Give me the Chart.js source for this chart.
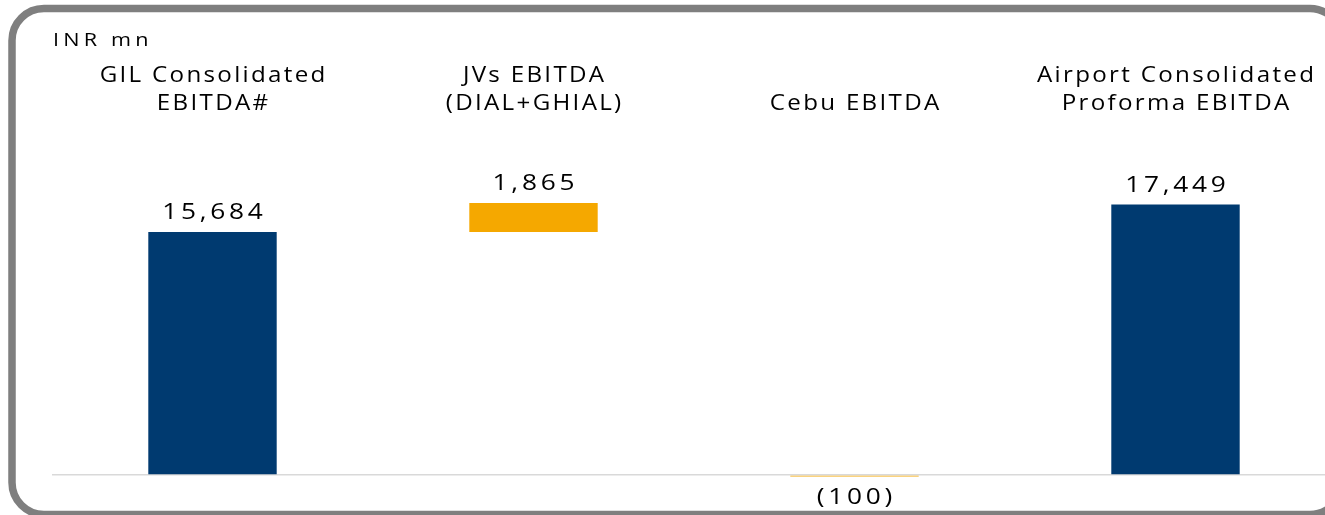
<!DOCTYPE html>
<html>
<head>
<meta charset="utf-8">
<script src="https://cdn.jsdelivr.net/npm/chart.js@4/dist/chart.umd.min.js"></script>
<style>
  html, body { margin: 0; padding: 0; background: #fff; overflow: hidden; width: 1325px; height: 515px; }
  #wrap { position: relative; width: 1325px; height: 515px; overflow: hidden; }
  #chart { position: absolute; left: 0; top: 0; }
</style>
</head>
<body>
<div id="wrap">
  <canvas id="chart" width="1345" height="515"></canvas>
</div>
<script>
  'use strict';

  // Data
  var categories = [
    ['GIL Consolidated', 'EBITDA#'],
    ['JVs EBITDA', '(DIAL+GHIAL)'],
    ['Cebu EBITDA'],
    ['Airport Consolidated', 'Proforma EBITDA']
  ];
  var values = [15684, 1865, -100, 17449];
  var bases = [0, 15684, 0, 0];
  var valueLabels = ['15,684', '1,865', '(100)', '17,449'];
  var barColors = ['#003A70', '#F5A800', '#F5A800', '#003A70'];
  var unitLabel = 'INR mn';

  var FONT = '"Open Sans", "Liberation Sans", sans-serif';

  // wide-looking text: stretch horizontally and add a little tracking
  function wideText(ctx, text, x, y, stretch, spacing, align) {
    ctx.save();
    ctx.translate(x, y);
    ctx.scale(stretch, 1);
    ctx.letterSpacing = spacing + 'px';
    ctx.textAlign = align || 'center';
    ctx.fillText(text, align === 'left' ? 0 : spacing / 2, 0);
    ctx.restore();
  }

  // rounded frame, its right side runs off the page
  var framePlugin = {
    id: 'frame',
    beforeDraw: function (chart) {
      var ctx = chart.ctx;
      var l = 12, t = 8.5, b = 514.5, r = 32, cx = 1310;
      ctx.save();
      ctx.strokeStyle = '#7f7f7f';
      ctx.lineWidth = 7.5;
      ctx.beginPath();
      ctx.arc(cx, t + r, r, -Math.PI / 6, -Math.PI / 2, true);
      ctx.lineTo(l + r, t);
      ctx.arc(l + r, t + r, r, -Math.PI / 2, Math.PI, true);
      ctx.lineTo(l, b - r);
      ctx.arc(l + r, b - r, r, Math.PI, Math.PI / 2, true);
      ctx.lineTo(cx, b);
      ctx.arc(cx, b - r, r, Math.PI / 2, Math.PI / 6, true);
      ctx.stroke();
      ctx.restore();
    }
  };

  var labelsPlugin = {
    id: 'waterfallLabels',
    afterDatasetsDraw: function (chart) {
      var ctx = chart.ctx;
      var xScale = chart.scales.x;
      var meta = chart.getDatasetMeta(0);
      ctx.save();
      ctx.fillStyle = '#000';
      ctx.textBaseline = 'alphabetic';

      // unit label
      ctx.font = '18px ' + FONT;
      wideText(ctx, unitLabel, 53, 46, 1.2, 3.5, 'left');

      // category labels, bottom aligned
      ctx.font = '21px ' + FONT;
      categories.forEach(function (lines, i) {
        var cx = xScale.getPixelForValue(i);
        var n = lines.length;
        lines.forEach(function (line, j) {
          wideText(ctx, line, cx, 110 - (n - 1 - j) * 28, 1.15, 2);
        });
      });

      // value labels
      ctx.font = '21px ' + FONT;
      meta.data.forEach(function (bar, i) {
        var y = values[i] >= 0 ? bar.y - 13 : bar.y + 27;
        wideText(ctx, valueLabels[i], bar.x, y, 1.25, 3);
      });
      ctx.restore();
    }
  };

  new Chart(document.getElementById('chart'), {
    type: 'bar',
    data: {
      labels: categories,
      datasets: [{
        data: values.map(function (v, i) { return [bases[i], bases[i] + v]; }),
        backgroundColor: barColors,
        borderWidth: 0,
        barPercentage: 0.4,
        categoryPercentage: 1.0
      }]
    },
    options: {
      responsive: false,
      animation: false,
      devicePixelRatio: 1,
      layout: { padding: { left: 52, right: 9, top: 149.5, bottom: 24.5 } },
      plugins: { legend: { display: false }, tooltip: { enabled: false } },
      scales: {
        x: { display: false },
        y: {
          min: -1000,
          max: 21000,
          afterBuildTicks: function (axis) { axis.ticks = [{ value: 0 }]; },
          ticks: { display: false },
          grid: { color: '#D9D9D9', lineWidth: 1.5, drawTicks: false },
          border: { display: false }
        }
      }
    },
    plugins: [framePlugin, labelsPlugin]
  });
</script>
</body>
</html>
